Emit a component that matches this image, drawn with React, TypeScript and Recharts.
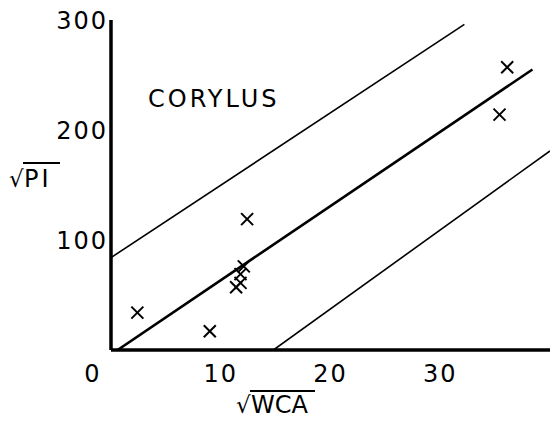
import React from 'react';
import { ComposedChart, Scatter, XAxis, YAxis } from 'recharts';

// sqrt(WCA) vs sqrt(PI) samples
const samples = [
  { x: 2.4, y: 34 },
  { x: 9.0, y: 17 },
  { x: 12.4, y: 119 },
  { x: 12.1, y: 76 },
  { x: 11.8, y: 69 },
  { x: 11.4, y: 57 },
  { x: 11.8, y: 61 },
  { x: 36.1, y: 257 },
  { x: 35.4, y: 214 },
];

// regression line and the two limit lines
const fitLine = [{ x: 0.6, y: 0 }, { x: 38.4, y: 255 }];
const upperLine = [{ x: 0, y: 84 }, { x: 32.2, y: 296 }];
const lowerLine = [{ x: 14.8, y: 0 }, { x: 40, y: 181 }];

const xTicks = [0, 10, 20, 30];
const yTicks = [100, 200, 300];

const FONT = '"DejaVu Sans", sans-serif';

const Cross = (props: any) => {
  const { cx, cy } = props;
  const s = 6;
  return (
    <g stroke="#000" strokeWidth={2}>
      <line x1={cx - s} y1={cy - s} x2={cx + s} y2={cy + s} />
      <line x1={cx - s} y1={cy + s} x2={cx + s} y2={cy - s} />
    </g>
  );
};

const NoDot = () => <g />;

const XTick = (props: any) => {
  const { x, y, payload } = props;
  // the origin label sits left of the axis in the original
  const dx = payload.value === 0 ? -18 : 0;
  return (
    <text x={x + dx} y={y + 30} textAnchor="middle" fontSize={24} fontFamily={FONT} letterSpacing={2} fill="#000">
      {payload.value}
    </text>
  );
};

const YTick = (props: any) => {
  const { x, y, payload } = props;
  return (
    <text x={x} y={y + 9} textAnchor="end" fontSize={24} fontFamily={FONT} letterSpacing={2} fill="#000">
      {payload.value}
    </text>
  );
};

export default function App() {
  return (
    <div style={{ position: 'absolute', left: 0, top: 0, width: 552, height: 423, background: '#fff' }}>
      <ComposedChart width={552} height={423} margin={{ top: 20, right: 2, bottom: 0, left: 0 }}>
        <XAxis
          type="number"
          dataKey="x"
          domain={[0, 40]}
          ticks={xTicks}
          allowDataOverflow
          tickLine={false}
          tickSize={0}
          height={73}
          axisLine={{ stroke: '#000', strokeWidth: 3.5 }}
          tick={<XTick />}
        />
        <YAxis
          type="number"
          dataKey="y"
          domain={[0, 300]}
          ticks={yTicks}
          allowDataOverflow
          tickLine={false}
          tickSize={0}
          tickMargin={3}
          width={111}
          axisLine={{ stroke: '#000', strokeWidth: 3.5 }}
          tick={<YTick />}
        />
        <Scatter data={upperLine} line={{ stroke: '#000', strokeWidth: 1.6 }} shape={<NoDot />} isAnimationActive={false} />
        <Scatter data={fitLine} line={{ stroke: '#000', strokeWidth: 2.6 }} shape={<NoDot />} isAnimationActive={false} />
        <Scatter data={lowerLine} line={{ stroke: '#000', strokeWidth: 1.6 }} shape={<NoDot />} isAnimationActive={false} />
        <Scatter data={samples} shape={<Cross />} isAnimationActive={false} />
      </ComposedChart>
      <svg width={552} height={423} style={{ position: 'absolute', left: 0, top: 0, pointerEvents: 'none' }}>
        <g fontFamily={FONT} fill="#000">
          <text x={148} y={107} fontSize={24} letterSpacing={3}>CORYLUS</text>
          <text x={9} y={187} fontSize={23}>√</text>
          <text x={24} y={187} fontSize={24} letterSpacing={3}>PI</text>
          <line x1={23} y1={163} x2={60} y2={163} stroke="#000" strokeWidth={2} />
          <text x={236} y={413} fontSize={23}>√</text>
          <text x={251} y={413} fontSize={24} letterSpacing={0}>WCA</text>
          <line x1={250} y1={391} x2={315} y2={391} stroke="#000" strokeWidth={2} />
        </g>
      </svg>
    </div>
  );
}
